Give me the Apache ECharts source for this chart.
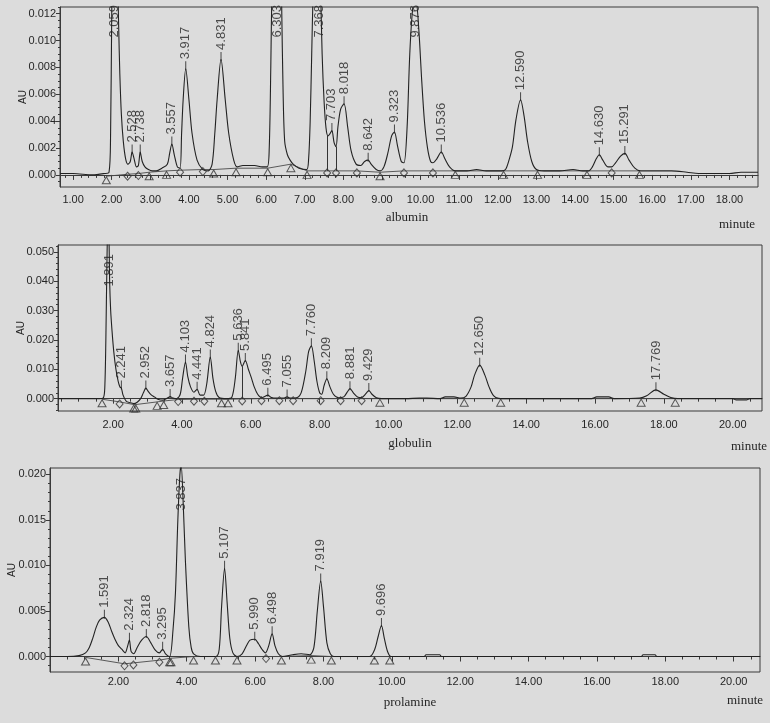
<!DOCTYPE html>
<html><head><meta charset="utf-8">
<script src="https://cdn.jsdelivr.net/npm/echarts@6/dist/echarts.min.js"></script>
<style>html,body{margin:0;padding:0;background:#dcdcdc}#c{width:770px;height:723px}</style>
</head><body><div id="c"></div>
<script>
// ================= DATA =================
// ---- albumin ----
const albuminTrace = [[0.66,0.0001],[1.0,0.0001],[1.5,0.0000],[1.8,0.0001],[1.93,0.0002],[1.97,0.003],[2.0,0.012],[2.03,0.018],[2.08,0.020],[2.14,0.016],[2.18,0.011],[2.21,0.0075],[2.25,0.0045],[2.3,0.0025],[2.36,0.0012],[2.42,0.0008],[2.48,0.0010],[2.528,0.0017],[2.58,0.0012],[2.64,0.0006],[2.69,0.0007],[2.738,0.0017],[2.79,0.0010],[2.86,0.0006],[2.95,0.0004],[3.05,0.0003],[3.15,0.0003],[3.3,0.0005],[3.44,0.0008],[3.5,0.0016],[3.557,0.0023],[3.62,0.0015],[3.7,0.0006],[3.77,0.0005],[3.81,0.0031],[3.85,0.0056],[3.917,0.0079],[4.0,0.0056],[4.08,0.0031],[4.21,0.0011],[4.36,0.0004],[4.5,0.0003],[4.6,0.0008],[4.67,0.0031],[4.73,0.0056],[4.831,0.0086],[4.94,0.0056],[5.03,0.0031],[5.16,0.0011],[5.25,0.0006],[5.4,0.0007],[5.7,0.0007],[5.9,0.0006],[6.03,0.0006],[6.08,0.002],[6.12,0.008],[6.15,0.014],[6.22,0.022],[6.303,0.025],[6.37,0.020],[6.4,0.013],[6.44,0.006],[6.48,0.0025],[6.55,0.0015],[6.62,0.0011],[6.7,0.0008],[6.85,0.0005],[7.05,0.0004],[7.1,0.0012],[7.14,0.004],[7.18,0.009],[7.22,0.014],[7.3,0.020],[7.368,0.021],[7.41,0.014],[7.45,0.009],[7.5,0.0055],[7.55,0.0035],[7.6,0.0029],[7.66,0.0031],[7.703,0.0033],[7.76,0.0024],[7.81,0.0021],[7.86,0.0036],[7.93,0.0049],[8.018,0.0053],[8.11,0.0036],[8.2,0.0018],[8.33,0.0008],[8.45,0.0007],[8.55,0.0010],[8.642,0.0011],[8.72,0.0008],[8.85,0.0004],[8.95,0.0003],[9.05,0.0006],[9.15,0.0016],[9.25,0.0029],[9.323,0.0032],[9.4,0.0022],[9.5,0.0010],[9.57,0.0009],[9.65,0.0035],[9.72,0.0090],[9.8,0.0125],[9.876,0.0130],[9.95,0.0110],[10.03,0.0070],[10.1,0.0040],[10.18,0.0020],[10.26,0.0010],[10.32,0.0009],[10.42,0.0012],[10.536,0.0017],[10.63,0.0012],[10.75,0.0006],[10.9,0.0003],[11.2,0.0003],[11.45,0.0004],[11.7,0.0003],[12.1,0.0003],[12.2,0.0004],[12.3,0.0012],[12.38,0.0021],[12.47,0.0041],[12.59,0.0056],[12.68,0.0044],[12.77,0.0025],[12.88,0.0010],[13.0,0.0004],[13.2,0.0003],[13.6,0.0003],[13.95,0.0004],[14.2,0.0003],[14.35,0.0003],[14.45,0.0006],[14.55,0.0012],[14.63,0.0015],[14.72,0.0011],[14.85,0.0006],[14.95,0.0006],[15.05,0.0009],[15.18,0.0014],[15.291,0.0016],[15.4,0.0011],[15.55,0.0005],[15.7,0.0003],[16.0,0.0003],[16.5,0.0003],[16.9,0.0002],[17.2,0.0001],[17.6,0.0001],[18.0,0.0001],[18.3,0.0002],[18.74,0.0002]];
const albuminPeakTimes   = [2.059,2.528,2.738,3.557,3.917,4.831,6.303,7.368,7.703,8.018,8.642,9.323,9.876,10.536,12.590,14.630,15.291];
const albuminPeakHeights = [0.020,0.0017,0.0017,0.0023,0.0079,0.0086,0.025,0.021,0.0033,0.0053,0.0011,0.0032,0.0130,0.0017,0.0056,0.0015,0.0016];
const albuminTriangles = [[1.86,-0.0001],[2.97,0.0002],[3.42,0.0003],[4.64,0.0004],[5.22,0.0005],[6.04,0.0005],[6.64,0.0008],[7.06,0.0003],[8.95,0.0002],[10.9,0.0003],[12.15,0.0003],[13.03,0.0003],[14.31,0.0003],[15.67,0.0003]];
const albuminDiamonds  = [[2.41,0.00005],[2.69,0.0001],[3.77,0.00035],[4.36,0.0004],[7.58,0.0003],[7.81,0.0003],[8.35,0.0003],[9.57,0.0003],[10.32,0.0003],[14.95,0.0003]];
const albuminDrops = [[7.58,0.0029,0.0003],[7.81,0.0021,0.0003]];
const albuminXTicks = [1,2,3,4,5,6,7,8,9,10,11,12,13,14,15,16,17,18];
const albuminYTicks = [0,0.002,0.004,0.006,0.008,0.010,0.012];

// ---- globulin ----
const globulinTrace = [[0.4,0.0000],[1.0,0.0000],[1.6,0.0000],[1.72,0.0003],[1.76,0.004],[1.79,0.02],[1.82,0.045],[1.85,0.06],[1.88,0.055],[1.9,0.040],[1.93,0.030],[1.97,0.023],[2.02,0.016],[2.08,0.0102],[2.15,0.0058],[2.2,0.0040],[2.241,0.0036],[2.29,0.0012],[2.38,-0.0008],[2.5,-0.0014],[2.6,-0.0017],[2.7,-0.0012],[2.8,0.0000],[2.88,0.0020],[2.952,0.0036],[3.02,0.0025],[3.1,0.0014],[3.2,0.0006],[3.3,-0.0002],[3.45,-0.0005],[3.58,0.0002],[3.657,0.0007],[3.74,0.0002],[3.85,0.0000],[3.95,0.0015],[4.02,0.0070],[4.103,0.0125],[4.17,0.0075],[4.25,0.0040],[4.35,0.0022],[4.441,0.0032],[4.53,0.0012],[4.63,0.0012],[4.72,0.0050],[4.824,0.0142],[4.9,0.0070],[4.98,0.0025],[5.08,0.0004],[5.3,0.0000],[5.45,0.0005],[5.55,0.0070],[5.636,0.0165],[5.7,0.0125],[5.75,0.0110],[5.841,0.0130],[5.93,0.0100],[6.02,0.0070],[6.1,0.0040],[6.2,0.0015],[6.32,0.0003],[6.42,0.0008],[6.495,0.0012],[6.58,0.0005],[6.75,0.0002],[6.95,0.0002],[7.055,0.0006],[7.15,0.0002],[7.35,0.0004],[7.47,0.0022],[7.6,0.0095],[7.68,0.0160],[7.76,0.0180],[7.84,0.0130],[7.92,0.0060],[8.0,0.0020],[8.06,0.0015],[8.13,0.0045],[8.209,0.0068],[8.3,0.0040],[8.4,0.0015],[8.55,0.0003],[8.7,0.0006],[8.8,0.0022],[8.881,0.0034],[8.98,0.0020],[9.1,0.0006],[9.22,0.0004],[9.35,0.0018],[9.429,0.0028],[9.52,0.0015],[9.65,0.0003],[9.8,0.0000],[10.5,0.0000],[10.9,0.0002],[11.1,0.0002],[11.5,0.0000],[11.65,0.0006],[11.9,0.0006],[12.1,0.0002],[12.25,0.0008],[12.4,0.0040],[12.5,0.0080],[12.65,0.0114],[12.8,0.0080],[12.92,0.0040],[13.05,0.0010],[13.2,0.0001],[13.5,0.0000],[15.9,0.0000],[16.05,0.0006],[16.4,0.0006],[16.55,0.0000],[17.3,0.0002],[17.5,0.0010],[17.769,0.0030],[18.0,0.0015],[18.2,0.0004],[18.4,0.0000],[20.0,0.0000],[20.1,-0.0004],[20.4,-0.0004],[20.5,0.0000],[20.85,0.0000]];
const globulinPeakTimes   = [1.891,2.241,2.952,3.657,4.103,4.441,4.824,5.636,5.841,6.495,7.055,7.760,8.209,8.881,9.429,12.650,17.769];
const globulinPeakHeights = [0.060,0.0036,0.0036,0.0007,0.0125,0.0032,0.0142,0.0165,0.0130,0.0012,0.0006,0.0180,0.0068,0.0034,0.0028,0.0114,0.0030];
const globulinTriangles = [[1.68,-0.0002],[2.6,-0.002],[2.66,-0.002],[3.28,-0.0011],[3.47,-0.0008],[5.15,-0.0002],[5.34,-0.0002],[9.75,0],[12.2,0],[13.26,0],[17.34,0],[18.33,0]];
const globulinDiamonds  = [[2.19,-0.0011],[3.89,-0.0003],[4.35,-0.0002],[4.65,-0.0002],[5.75,-0.0001],[6.31,0],[6.83,0],[7.23,0],[8.03,0],[8.61,0],[9.22,0]];
const globulinDrops = [[5.75,0.0110,-0.0001]];
const globulinXTicks = [2,4,6,8,10,12,14,16,18,20];
const globulinYTicks = [0,0.010,0.020,0.030,0.040,0.050];

// ---- prolamine ----
const prolamineTrace = [[0,0.0000],[0.5,0.0000],[0.85,0.0001],[1.04,0.0004],[1.15,0.0010],[1.25,0.0020],[1.35,0.0032],[1.45,0.0040],[1.591,0.0043],[1.7,0.0038],[1.8,0.0028],[1.9,0.0019],[2.0,0.0012],[2.1,0.0008],[2.2,0.0004],[2.26,0.0010],[2.324,0.0018],[2.37,0.0006],[2.45,0.0003],[2.55,0.0010],[2.68,0.0018],[2.818,0.0022],[2.95,0.0015],[3.08,0.0007],[3.2,0.0004],[3.295,0.0008],[3.38,0.0003],[3.5,0.0000],[3.6,0.0030],[3.67,0.0070],[3.74,0.0150],[3.8,0.0200],[3.837,0.0210],[3.9,0.0165],[3.96,0.0106],[4.06,0.0033],[4.13,0.0010],[4.2,0.0003],[4.4,0.0000],[4.85,0.0000],[4.95,0.0008],[5.02,0.0055],[5.107,0.0097],[5.18,0.0060],[5.26,0.0020],[5.35,0.0004],[5.47,0.0000],[5.62,0.0003],[5.75,0.0012],[5.85,0.0018],[5.99,0.0019],[6.1,0.0014],[6.2,0.0008],[6.3,0.0004],[6.4,0.0012],[6.498,0.0025],[6.58,0.0012],[6.68,0.0003],[6.8,0.0000],[7.1,0.0002],[7.35,0.0003],[7.6,0.0002],[7.72,0.0010],[7.82,0.0050],[7.919,0.0083],[8.0,0.0055],[8.1,0.0015],[8.2,0.0003],[8.3,0.0000],[9.35,0.0000],[9.5,0.0008],[9.6,0.0022],[9.696,0.0034],[9.78,0.0020],[9.88,0.0005],[9.98,0.0000],[10.95,0.0000],[11.0,0.0002],[11.4,0.0002],[11.45,0.0000],[17.3,0.0000],[17.35,0.0002],[17.7,0.0002],[17.75,0.0000],[20.77,0.0000]];
const prolaminePeakTimes   = [1.591,2.324,2.818,3.295,3.837,5.107,5.990,6.498,7.919,9.696];
const prolaminePeakHeights = [0.0043,0.0018,0.0022,0.0008,0.0210,0.0097,0.0019,0.0025,0.0083,0.0034];
const prolamineTriangles = [[1.04,-0.0001],[3.5,-0.0002],[3.54,-0.0002],[4.2,0],[4.84,0],[5.47,0],[6.77,0],[7.64,0.0001],[8.23,0],[9.49,0],[9.94,0]];
const prolamineDiamonds  = [[2.18,-0.0008],[2.44,-0.0007],[3.2,-0.0004],[6.32,0]];
const prolamineDrops = [];
const prolamineXTicks = [2,4,6,8,10,12,14,16,18,20];
const prolamineYTicks = [0,0.005,0.010,0.015,0.020];

// ================= LAYOUT / STYLE =================
const SANS = "'Liberation Sans', Arial, Helvetica, sans-serif";
const SERIF = "'Liberation Serif', 'Times New Roman', serif";
const INK = '#262626';
const panels = [
  {name:'albumin', trace:albuminTrace, peaks:albuminPeakTimes, heights:albuminPeakHeights, tri:albuminTriangles, dia:albuminDiamonds, drops:albuminDrops, xTicks:albuminXTicks, yTicks:albuminYTicks,
   xMin:0.66, xMax:18.74, yMin:-0.0009, yMax:0.0125, xMinor:0.2, yMinor:0.0005,
   grid:{left:60, top:7, width:698, height:180}, xMargin:7, clipGap:1, nameGap:32, title:[407,218], unit:[737,225]},
  {name:'globulin', trace:globulinTrace, peaks:globulinPeakTimes, heights:globulinPeakHeights, tri:globulinTriangles, dia:globulinDiamonds, drops:globulinDrops, xTicks:globulinXTicks, yTicks:globulinYTicks,
   xMin:0.4, xMax:20.85, yMin:-0.0042, yMax:0.0523, xMinor:0.5, yMinor:0.002,
   grid:{left:58, top:245, width:704, height:166}, xMargin:8, clipGap:12, nameGap:32, title:[410,444], unit:[749,447]},
  {name:'prolamine', trace:prolamineTrace, peaks:prolaminePeakTimes, heights:prolaminePeakHeights, tri:prolamineTriangles, dia:prolamineDiamonds, drops:prolamineDrops, xTicks:prolamineXTicks, yTicks:prolamineYTicks,
   xMin:0, xMax:20.77, yMin:-0.0017, yMax:0.0207, xMinor:0.5, yMinor:0.001,
   grid:{left:50, top:468, width:710, height:204}, xMargin:4, clipGap:13, nameGap:33, title:[410,703], unit:[745,701]}
];

const PEAK_FONT_SIZE = 13;
const measCtx = document.createElement('canvas').getContext('2d');
function textLen(s){ measCtx.font = PEAK_FONT_SIZE + 'px ' + SANS; return measCtx.measureText(s).width; }
function minorValues(min, max, step, majors){
  const out = [];
  const start = Math.ceil(min/step - 1e-9);
  for (let k = start; k*step <= max + 1e-12; k++){
    const v = Math.round(k*step*1e7)/1e7;
    if (!majors.some(m => Math.abs(m - v) < step*1e-3)) out.push(v);
  }
  return out;
}

const grids = [], xAxes = [], yAxes = [], series = [], graphics = [];
panels.forEach((p, i) => {
  grids.push(Object.assign({show:true, borderColor:'#3a3a3a', borderWidth:1, backgroundColor:'transparent', containLabel:false, outerBoundsMode:'none'}, p.grid));
  const ax = 2*i;
  const axLine = {show:true, lineStyle:{color:'#3a3a3a', width:1}};
  xAxes.push({type:'value', gridIndex:i, min:p.xMin, max:p.xMax, position:'bottom',
    axisLine:axLine, splitLine:{show:false},
    axisTick:{show:true, inside:false, length:5, customValues:p.xTicks, lineStyle:{color:'#3a3a3a'}},
    axisLabel:{show:true, customValues:p.xTicks, formatter:v=>Number(v).toFixed(2), margin:p.xMargin, fontSize:11, color:INK, fontFamily:SANS, hideOverlap:false}});
  xAxes.push({type:'value', gridIndex:i, min:p.xMin, max:p.xMax, position:'bottom', offset:0,
    axisLine:{show:false}, splitLine:{show:false}, axisLabel:{show:false},
    axisTick:{show:true, inside:false, length:3, customValues:minorValues(p.xMin,p.xMax,p.xMinor,p.xTicks), lineStyle:{color:'#3a3a3a'}}});
  yAxes.push({type:'value', gridIndex:i, min:p.yMin, max:p.yMax, position:'left',
    name:'AU', nameLocation:'middle', nameGap:p.nameGap, nameMoveOverlap:false, nameTextStyle:{fontSize:10, color:INK, fontFamily:SANS},
    axisLine:axLine, splitLine:{show:false},
    axisTick:{show:true, inside:false, length:4, customValues:p.yTicks, lineStyle:{color:'#3a3a3a'}},
    axisLabel:{show:true, customValues:p.yTicks, formatter:v=>Number(v).toFixed(3), margin:4, fontSize:11, color:INK, fontFamily:SANS, hideOverlap:false}});
  yAxes.push({type:'value', gridIndex:i, min:p.yMin, max:p.yMax, position:'left', offset:0,
    axisLine:{show:false}, splitLine:{show:false}, axisLabel:{show:false},
    axisTick:{show:true, inside:false, length:2, customValues:minorValues(p.yMin,p.yMax,p.yMinor,p.yTicks), lineStyle:{color:'#3a3a3a'}}});

  const base = p.tri.concat(p.dia).slice().sort((a,b)=>a[0]-b[0]);
  series.push({type:'line', xAxisIndex:ax, yAxisIndex:ax, data:base, symbol:'none', silent:true,
    lineStyle:{color:'#4a4a4a', width:0.9}, z:2});
  series.push({type:'line', xAxisIndex:ax, yAxisIndex:ax, data:p.trace, symbol:'none', smooth:0.3, clip:true, silent:true,
    lineStyle:{color:'#222', width:1.1}, z:3});
  if (p.drops.length) series.push({type:'lines', coordinateSystem:'cartesian2d', xAxisIndex:ax, yAxisIndex:ax, silent:true,
    data:p.drops.map(d=>({coords:[[d[0],d[1]],[d[0],d[2]]]})), lineStyle:{color:'#333', width:1, opacity:1}, z:3});
  series.push({type:'scatter', xAxisIndex:ax, yAxisIndex:ax, data:p.tri, symbol:'triangle', symbolSize:[8,7], symbolOffset:[0,4], silent:true,
    itemStyle:{color:'rgba(0,0,0,0)', borderColor:'#333', borderWidth:1}, z:4});
  series.push({type:'scatter', xAxisIndex:ax, yAxisIndex:ax, data:p.dia, symbol:'diamond', symbolSize:[7,8], symbolOffset:[0,2], silent:true,
    itemStyle:{color:'rgba(0,0,0,0)', borderColor:'#333', borderWidth:1}, z:4});
  const range = p.yMax - p.yMin;
  const labData = p.peaks.map((t, k) => {
    const txt = t.toFixed(3);
    const h = p.heights[k];
    if (h > p.yMax) {
      const anchor = p.yMax - (p.clipGap + textLen(txt)) / p.grid.height * range;
      return {name:txt, value:[t, anchor], symbolSize:0, label:{distance:0}};
    }
    return {name:txt, value:[t, h]};
  });
  series.push({type:'scatter', xAxisIndex:ax, yAxisIndex:ax, data:labData, symbol:'rect', symbolSize:[1,9], symbolOffset:[0,-3], silent:true,
    itemStyle:{color:'#222'}, z:5,
    label:{show:true, formatter:'{b}', position:'top', distance:2, rotate:90, align:'left', verticalAlign:'middle',
      fontSize:PEAK_FONT_SIZE, color:INK, fontFamily:SANS}});

  graphics.push({type:'text', x:p.title[0], y:p.title[1], style:{text:p.name, font:'13px ' + SERIF, fill:INK, align:'center', verticalAlign:'middle'}});
  graphics.push({type:'text', x:p.unit[0], y:p.unit[1], style:{text:'minute', font:'13px ' + SERIF, fill:INK, align:'center', verticalAlign:'middle'}});
});

const chart = echarts.init(document.getElementById('c'), null, {renderer:'canvas'});
chart.setOption({
  animation:false,
  backgroundColor:'#dcdcdc',
  grid:grids, xAxis:xAxes, yAxis:yAxes, series:series, graphic:graphics,
  tooltip:{show:false}, legend:{show:false}
});
</script></body></html>
